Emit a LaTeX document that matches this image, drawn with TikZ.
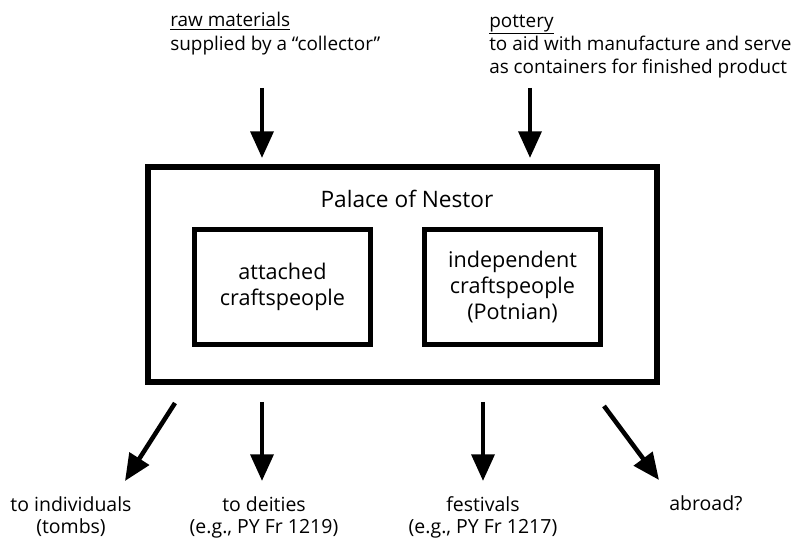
\documentclass[tikz,border=0pt]{standalone}
\usepackage{fontspec}
\setmainfont{Open Sans}
\usetikzlibrary{arrows.meta,positioning}

\begin{document}
\begin{tikzpicture}[
  x=0.75pt,y=-0.75pt,
  lbl/.style={align=left,inner sep=0pt,font=\fontsize{14.2}{17.5}\selectfont},
  outlbl/.style={align=center,inner sep=0pt,font=\fontsize{14.6}{16.5}\selectfont},
  outer/.style={draw,line width=4.5pt,minimum width=509*0.75pt,minimum height=215.5*0.75pt,inner sep=0pt},
  crafts/.style={draw,line width=3.6pt,minimum width=176*0.75pt,minimum height=115*0.75pt,
                 inner sep=0pt,align=center,font=\fontsize{16.2}{19.5}\selectfont},
  arr/.style={-{Triangle[length=20pt,width=17pt]},line width=3.4pt}
]
\useasboundingbox (0,0) rectangle (796,541);

\node[lbl,anchor=base west] (raw) at (170,50.3)
  {\underline{raw materials}\\supplied by a “collector”};
\node[lbl,anchor=base west] (pot) at (489,73.7)
  {\underline{pottery}\\to aid with manufacture and serve\\as containers for finished product};

\node[outer] (palace) at (402,274.75) {};
\node[font=\fontsize{17}{20}\selectfont,anchor=base] (title) at (407,208) {Palace of Nestor};
\node[crafts] (att) at (282.5,287) {attached\\craftspeople};
\node[crafts] (ind) at (512.5,287) {independent\\craftspeople\\(Potnian)};

\coordinate (in1) at (262,88);
\coordinate (in2) at (530,88);
\draw[arr,shorten >=4.5pt] (in1) -- (in1 |- palace.north);
\draw[arr,shorten >=4.5pt] (in2) -- (in2 |- palace.north);

\node[outlbl,anchor=base] (indiv) at (71,533) {to individuals\\(tombs)};
\node[outlbl,anchor=base] (deity) at (264,533) {to deities\\(e.g., PY Fr 1219)};
\node[outlbl,anchor=base] (fest) at (483,533) {festivals\\(e.g., PY Fr 1217)};
\node[outlbl,anchor=base] (abroad) at (706,510) {abroad?};

\coordinate (out1) at (175,403);
\coordinate (tip1) at (125,481);
\coordinate (out2) at (262,402);
\coordinate (out3) at (483,402);
\coordinate (out4) at (604,406);
\coordinate (tip4) at (659,480);
\draw[arr] (out1) -- (tip1);
\draw[arr] (out2) -- (out2 |- tip1);
\draw[arr] (out3) -- (out3 |- tip1);
\draw[arr] (out4) -- (tip4);
\end{tikzpicture}
\end{document}
